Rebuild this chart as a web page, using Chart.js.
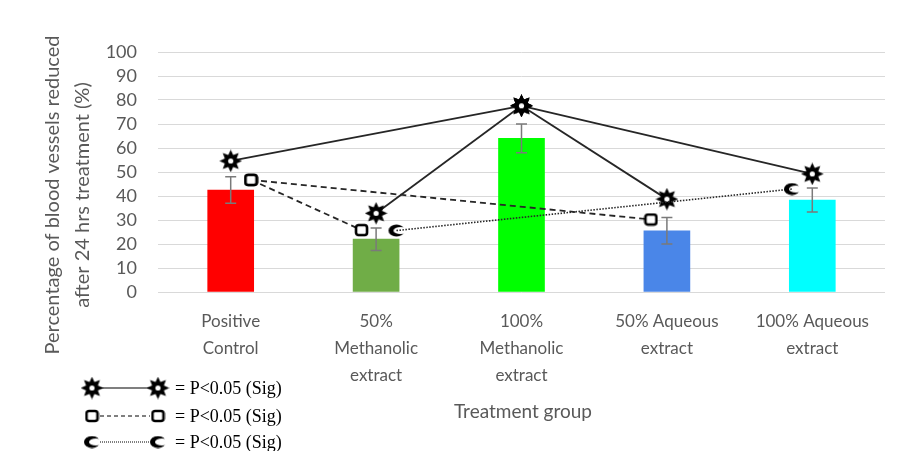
<!DOCTYPE html>
<html>
<head>
<meta charset="utf-8">
<script src="https://cdn.jsdelivr.net/npm/chart.js@4.4.1/dist/chart.umd.min.js"></script>
<style>
  html, body { margin: 0; padding: 0; background: #fff; }
  canvas { display: block; }
</style>
</head>
<body>
<canvas id="chart" width="900" height="451"></canvas>
<script>
// Treatment groups (x axis, multi-line labels)
const categories = [
  ["Positive", "Control"],
  ["50%", "Methanolic", "extract"],
  ["100%", "Methanolic", "extract"],
  ["50% Aqueous", "extract"],
  ["100% Aqueous", "extract"],
];
const meanReduction = [42.5, 22, 64, 25.5, 38.3];
const errorSize = [5.5, 4.7, 6, 5.5, 5];
const barColors = ["#ff0000", "#70ad47", "#00ff00", "#4a86e8", "#00ffff"];
const yTicks = [0, 10, 20, 30, 40, 50, 60, 70, 80, 90, 100];

// Significance markers, x in category units (0 = Positive Control), y in %
const starX = [0, 1, 2, 3, 4];
const starY = [54.6, 32.8, 77.6, 38.7, 49.2];
const starLinks = [[0, 2], [1, 2], [2, 3], [2, 4]];
const squareX = [0.14, 0.9, 2.89];
const squareY = [46.7, 25.8, 30.2];
const squareLinks = [[0, 1], [0, 2]];
const moonX = [1.14, 3.86];
const moonY = [25.6, 42.9];
const moonLinks = [[0, 1]];
const legendText = "= P<0.05 (Sig)";

const TEXT_GREY = "#595959";
Chart.defaults.font.family = "Lato";

// Marker glyphs drawn once on small canvases
function makeStar() {
  const c = document.createElement("canvas");
  c.width = 23; c.height = 23;
  const g = c.getContext("2d");
  const r = 11.5, n = 8;
  g.beginPath();
  for (let i = 0; i < n * 2; i++) {
    const rad = i % 2 ? 6.4 : 11.3;
    const a = (i * Math.PI) / n - Math.PI / 2;
    g.lineTo(r + rad * Math.cos(a), r + rad * Math.sin(a));
  }
  g.closePath();
  g.fillStyle = "#000";
  g.fill();
  g.beginPath();
  g.arc(r, r, 2.6, 0, Math.PI * 2);
  g.fillStyle = "#fff";
  g.fill();
  return c;
}
function makeSquare() {
  const c = document.createElement("canvas");
  c.width = 15; c.height = 14;
  const g = c.getContext("2d");
  g.fillStyle = "#fff";
  g.strokeStyle = "#000";
  g.lineWidth = 2.6;
  g.beginPath();
  g.roundRect(2, 2, 11, 10, 2.5);
  g.fill();
  g.stroke();
  return c;
}
function makeMoon() {
  const c = document.createElement("canvas");
  c.width = 18; c.height = 13;
  const g = c.getContext("2d");
  g.fillStyle = "#000";
  g.beginPath();
  g.ellipse(9, 6.5, 8, 6, 0, 0, Math.PI * 2);
  g.fill();
  g.globalCompositeOperation = "destination-out";
  g.beginPath();
  g.ellipse(13, 6.5, 7, 3.6, 0, 0, Math.PI * 2);
  g.fill();
  return c;
}
const starImg = makeStar();
const squareImg = makeSquare();
const moonImg = makeMoon();

function linkDatasets(xs, ys, links, img, dash, width) {
  return links.map(([a, b]) => ({
    type: "line",
    xAxisID: "x2",
    data: [{ x: xs[a], y: ys[a] }, { x: xs[b], y: ys[b] }],
    borderColor: "#262626",
    borderWidth: width,
    borderDash: dash,
    pointStyle: img,
    pointRadius: 6,
    fill: false,
    tension: 0,
    order: 1,
  }));
}

// Error bars drawn right after the bars
const errorBars = {
  id: "errorBars",
  afterDatasetDraw(chart, args) {
    if (args.index !== 0) return;
    const { ctx } = chart;
    const y = chart.scales.y;
    ctx.save();
    ctx.strokeStyle = "#7a7a7a";
    ctx.lineWidth = 1.5;
    args.meta.data.forEach((bar, i) => {
      const top = y.getPixelForValue(meanReduction[i] + errorSize[i]);
      const bot = y.getPixelForValue(meanReduction[i] - errorSize[i]);
      ctx.beginPath();
      ctx.moveTo(bar.x, top); ctx.lineTo(bar.x, bot);
      ctx.moveTo(bar.x - 5.5, top); ctx.lineTo(bar.x + 5.5, top);
      ctx.moveTo(bar.x - 5.5, bot); ctx.lineTo(bar.x + 5.5, bot);
      ctx.stroke();
    });
    ctx.restore();
  },
};

// Axis titles and the significance key
const decorations = {
  id: "decorations",
  afterDraw(chart) {
    const { ctx } = chart;
    ctx.save();
    ctx.fillStyle = TEXT_GREY;
    ctx.font = "20px Lato";
    ctx.textAlign = "center";
    ctx.textBaseline = "middle";
    ctx.save();
    ctx.translate(53, 195);
    ctx.rotate(-Math.PI / 2);
    ctx.fillText("Percentage of blood vessels reduced", 0, 0);
    ctx.fillText("after 24 hrs treatment (%)", 0, 30);
    ctx.restore();
    ctx.font = "19px Lato";
    ctx.fillText("Treatment group", 523, 412);

    const rows = [
      { y: 388, img: starImg, dash: [], x1: 98, x2: 152, w: 1.2 },
      { y: 416, img: squareImg, dash: [4, 3], x1: 100, x2: 150, w: 1 },
      { y: 442, img: moonImg, dash: [1, 1], x1: 100, x2: 150, w: 1 },
    ];
    rows.forEach((r) => {
      ctx.strokeStyle = "#000";
      ctx.lineWidth = r.w;
      ctx.setLineDash(r.dash);
      ctx.beginPath();
      ctx.moveTo(r.x1, r.y); ctx.lineTo(r.x2, r.y);
      ctx.stroke();
      ctx.setLineDash([]);
      ctx.drawImage(r.img, 92 - r.img.width / 2, r.y - r.img.height / 2);
      ctx.drawImage(r.img, 158 - r.img.width / 2, r.y - r.img.height / 2);
      ctx.fillStyle = "#000";
      ctx.font = "18px 'Liberation Serif'";
      ctx.textAlign = "left";
      ctx.fillText(legendText, 175, r.y + 1);
    });
    ctx.restore();
  },
};

const ctx = document.getElementById("chart").getContext("2d");
new Chart(ctx, {
  type: "bar",
  data: {
    labels: categories,
    datasets: [
      {
        data: meanReduction,
        backgroundColor: barColors,
        barThickness: 46,
        grouped: false,
        order: 10,
      },
      ...linkDatasets(squareX, squareY, squareLinks, squareImg, [6, 4], 1.8),
      ...linkDatasets(moonX, moonY, moonLinks, moonImg, [1.5, 1.5], 1.6),
      ...linkDatasets(starX, starY, starLinks, starImg, [], 1.8),
    ],
  },
  plugins: [errorBars, decorations],
  options: {
    responsive: false,
    animation: false,
    devicePixelRatio: 1,
    events: [],
    layout: { padding: { top: 52, right: 15, left: 0, bottom: 0 } },
    plugins: { legend: { display: false }, tooltip: { enabled: false } },
    scales: {
      x: {
        grid: { display: false },
        border: { display: false },
        ticks: {
          color: TEXT_GREY,
          font: { size: 17, lineHeight: 1.6 },
          padding: 8,
          maxRotation: 0,
          autoSkip: false,
        },
        afterFit: (scale) => { scale.height = 159; },
      },
      x2: { type: "linear", min: -0.5, max: 4.5, offset: false, display: false },
      y: {
        min: yTicks[0],
        max: yTicks[yTicks.length - 1],
        grid: { color: "#d9d9d9", lineWidth: 1, drawTicks: false },
        border: { display: false },
        ticks: {
          stepSize: yTicks[1] - yTicks[0],
          autoSkip: false,
          color: TEXT_GREY,
          font: { size: 18 },
          padding: 21,
        },
        afterFit: (scale) => { scale.width = 158; },
      },
    },
  },
});
</script>
</body>
</html>
